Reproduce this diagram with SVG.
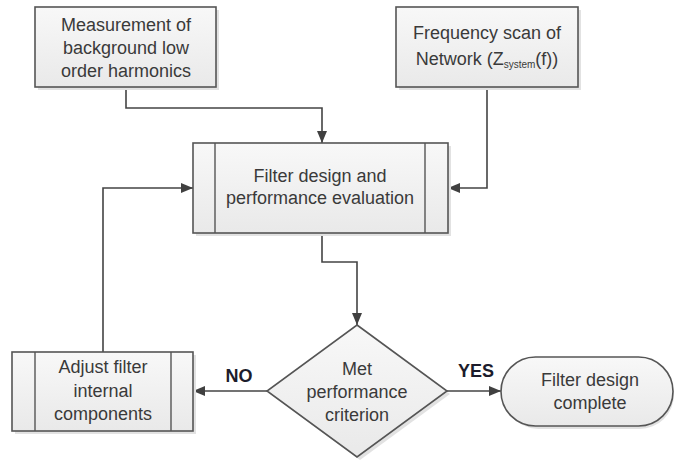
<svg xmlns="http://www.w3.org/2000/svg" width="676" height="462" viewBox="0 0 676 462">
<defs>
<linearGradient id="g" x1="0" y1="0" x2="0" y2="1">
<stop offset="0" stop-color="#f8f8f8"/>
<stop offset="1" stop-color="#e9e9e9"/>
</linearGradient>
<marker id="arr" viewBox="0 0 12 10" refX="12" refY="5" markerWidth="12" markerHeight="10" markerUnits="userSpaceOnUse" orient="auto">
<path d="M0,0 L12,5 L0,10 Z" fill="#404040"/>
</marker>
</defs>
<style>
.box{fill:url(#g);stroke:#555;stroke-width:1.6}
.sh{fill:#e2e2e2;stroke:none}
.in{stroke:#555;stroke-width:1.4;fill:none}
.t{font-family:"Liberation Sans",Arial,sans-serif;font-size:18px;fill:#3a3a3a;text-anchor:middle}
.sub{font-size:10px}
.c{fill:none;stroke:#444;stroke-width:1.6}
.lbl{font-family:"Liberation Sans",Arial,sans-serif;font-size:18px;font-weight:bold;fill:#1c1c2c;text-anchor:middle}
</style>

<g id="connectors">
<path class="c" d="M126,87 V108 H322 V143" marker-end="url(#arr)"/>
<path class="c" d="M487,87 V188 H448" marker-end="url(#arr)"/>
<path class="c" d="M322,233 V262 H357 V325" marker-end="url(#arr)"/>
<path class="c" d="M267,391 H193" marker-end="url(#arr)"/>
<path class="c" d="M447,391 H501" marker-end="url(#arr)"/>
<path class="c" d="M103,352 V188 H193" marker-end="url(#arr)"/>
<text class="lbl" x="239" y="382">NO</text>
<text class="lbl" x="476" y="377">YES</text>
</g>

<g id="measurement">
<rect class="sh" x="38" y="10" width="181" height="80"/>
<rect class="box" x="35" y="7" width="181" height="80"/>
<text class="t" x="126" y="31">Measurement of</text>
<text class="t" x="126" y="54">background low</text>
<text class="t" x="126" y="77">order harmonics</text>
</g>

<g id="frequency">
<rect class="sh" x="399" y="10" width="182" height="80"/>
<rect class="box" x="396" y="7" width="182" height="80"/>
<text class="t" x="487" y="39">Frequency scan of</text>
<text class="t" x="487" y="65">Network (Z<tspan class="sub" dy="3">system</tspan><tspan dy="-3">(f))</tspan></text>
</g>

<g id="filter-design">
<rect class="sh" x="196" y="146" width="255" height="90"/>
<rect class="box" x="193" y="143" width="255" height="90"/>
<line class="in" x1="215" y1="143" x2="215" y2="233"/>
<line class="in" x1="425" y1="143" x2="425" y2="233"/>
<text class="t" x="320" y="182">Filter design and</text>
<text class="t" x="320" y="204">performance evaluation</text>
</g>

<g id="criterion">
<path class="sh" d="M360,328 L450,394 L360,460 L270,394 Z"/>
<path class="box" d="M357,325 L447,391 L357,457 L267,391 Z"/>
<text class="t" x="357" y="375">Met</text>
<text class="t" x="357" y="398">performance</text>
<text class="t" x="357" y="421">criterion</text>
</g>

<g id="adjust">
<rect class="sh" x="15" y="355" width="181" height="79"/>
<rect class="box" x="12" y="352" width="181" height="79"/>
<line class="in" x1="35" y1="352" x2="35" y2="431"/>
<line class="in" x1="171" y1="352" x2="171" y2="431"/>
<text class="t" x="103" y="373">Adjust filter</text>
<text class="t" x="103" y="397">internal</text>
<text class="t" x="103" y="420">components</text>
</g>

<g id="complete">
<rect class="sh" x="504" y="360" width="170" height="69" rx="34.5"/>
<rect class="box" x="501" y="357" width="172" height="69" rx="34.5"/>
<text class="t" x="590" y="386">Filter design</text>
<text class="t" x="590" y="409">complete</text>
</g>
</svg>
